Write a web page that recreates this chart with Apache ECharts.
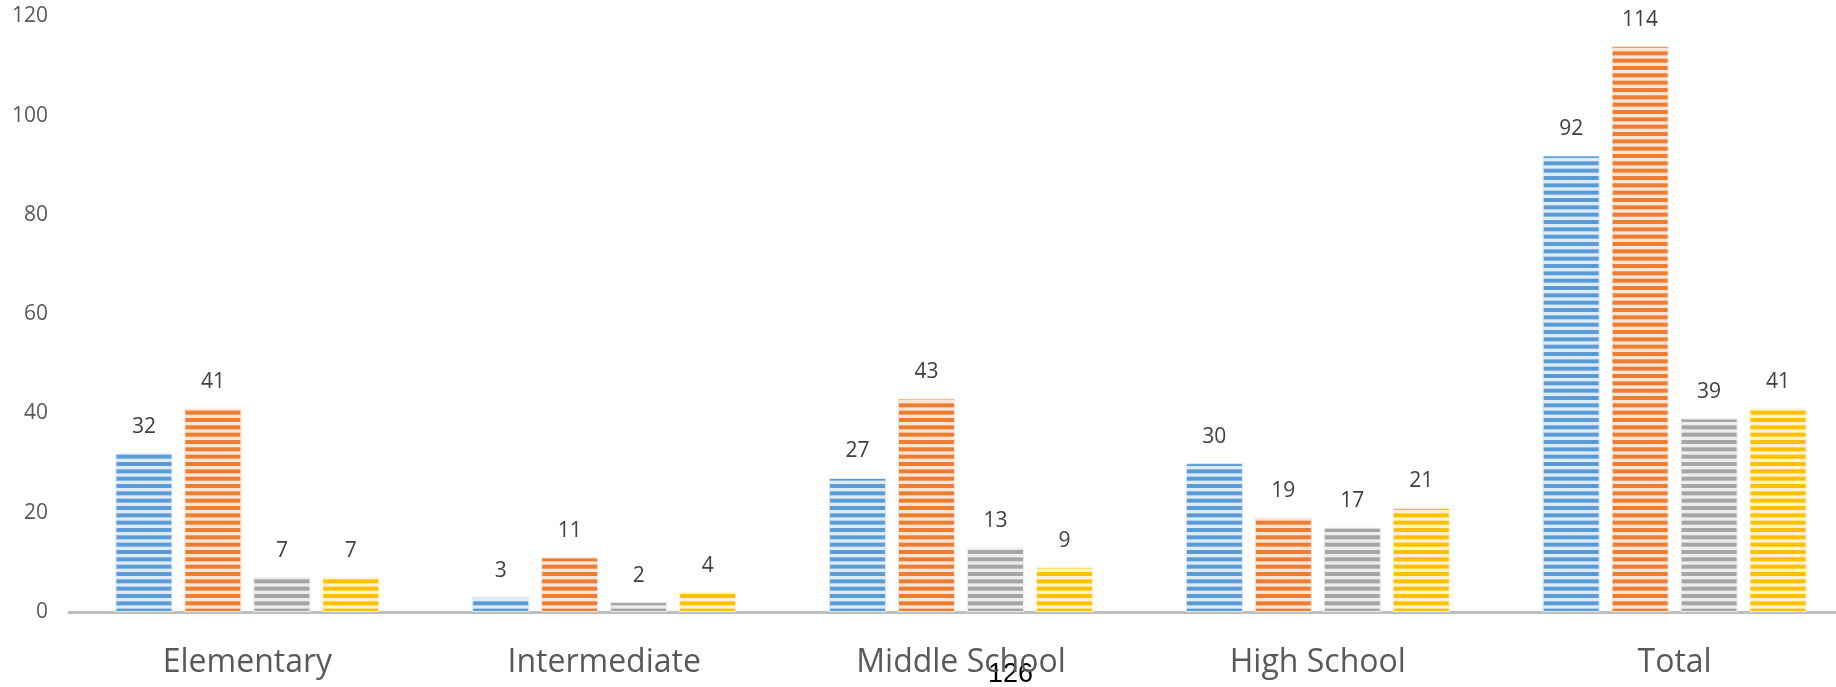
<!DOCTYPE html>
<html>
<head>
<meta charset="utf-8">
<script src="https://cdn.jsdelivr.net/npm/echarts@6/dist/echarts.min.js"></script>
<style>
html,body{margin:0;padding:0;background:#fff;}
#chart{width:1836px;height:687px;}
</style>
</head>
<body>
<div id="chart"></div>
<script>
const categories = ['Elementary', 'Intermediate', 'Middle School', 'High School', 'Total'];
const seriesA = [32, 3, 27, 30, 92];
const seriesB = [41, 11, 43, 19, 114];
const seriesC = [7, 2, 13, 17, 39];
const seriesD = [7, 4, 9, 21, 41];
const yTicks = [0, 20, 40, 60, 80, 100, 120];
const pageNumber = '126';

function stripes(dark, light) {
  const c = document.createElement('canvas');
  c.width = 8; c.height = 22;
  const ctx = c.getContext('2d');
  ctx.fillStyle = light;
  ctx.fillRect(0, 0, 8, 22);
  ctx.fillStyle = dark;
  const p = 22 / 3;
  for (let i = 0; i < 3; i++) ctx.fillRect(0, i * p, 8, 4);
  return c;
}

const palette = [
  ['#5B9BD5', '#DDEBF7'],
  ['#ED7D31', '#FBE5D6'],
  ['#A5A5A5', '#EDEDED'],
  ['#FFC000', '#FFF2CC']
];
const dataSets = [seriesA, seriesB, seriesC, seriesD];
const names = ['Series 1', 'Series 2', 'Series 3', 'Series 4'];

const chart = echarts.init(document.getElementById('chart'));
chart.setOption({
  animation: false,
  backgroundColor: '#ffffff',
  grid: { left: 69, top: 16.5, right: -17, bottom: 75, containLabel: false, outerBoundsMode: 'none' },
  xAxis: {
    type: 'category',
    data: categories,
    axisTick: { show: false },
    axisLine: { lineStyle: { color: '#BFBFBF', width: 3 } },
    axisLabel: { fontFamily: 'Open Sans', fontSize: 32, color: '#595959', margin: 35 }
  },
  yAxis: {
    type: 'value',
    min: yTicks[0],
    max: yTicks[yTicks.length - 1],
    interval: yTicks[1] - yTicks[0],
    splitLine: { show: false },
    axisLine: { show: false },
    axisTick: { show: false },
    axisLabel: { fontFamily: 'Open Sans', fontSize: 21, color: '#595959', margin: 21 }
  },
  series: dataSets.map((d, i) => ({
    name: names[i],
    type: 'bar',
    data: d,
    barWidth: 57,
    barGap: '21%',
    itemStyle: {
      color: { image: stripes(palette[i][0], palette[i][1]), repeat: 'repeat' },
      borderColor: palette[i][1],
      borderWidth: 1
    },
    label: {
      show: true,
      position: 'top',
      distance: 16,
      fontFamily: 'Open Sans',
      fontSize: 21,
      color: '#404040'
    }
  })),
  graphic: [{
    type: 'text',
    left: 988,
    top: 661,
    style: { text: pageNumber, fontFamily: 'Liberation Sans', fontSize: 27, fill: '#000000' }
  }]
});
</script>
</body>
</html>
